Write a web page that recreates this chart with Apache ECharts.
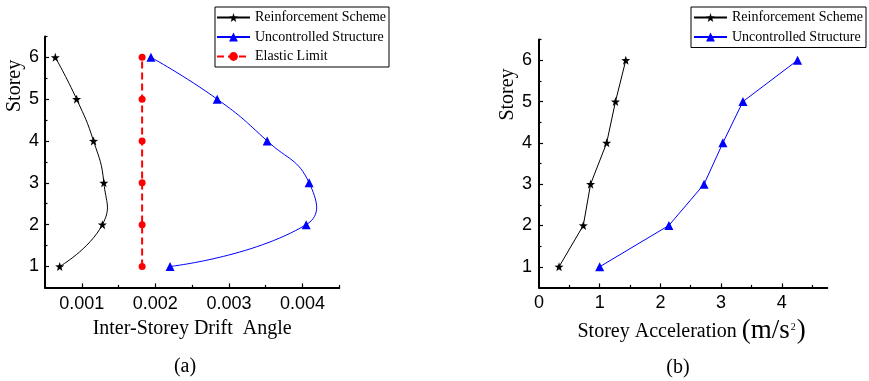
<!DOCTYPE html>
<html>
<head>
<meta charset="utf-8">
<script src="https://cdn.jsdelivr.net/npm/echarts@6/dist/echarts.min.js"></script>
<style>
  html, body { margin: 0; padding: 0; background: #fff; }
  #chart { width: 869px; height: 381px; }
</style>
</head>
<body>
<div id="chart"></div>
<script>
// Storey numbers shared by both panels
const storeys = [1, 2, 3, 4, 5, 6];

// (a) inter-storey drift angle per storey
const driftReinforced = [0.0007, 0.00128, 0.0013, 0.00116, 0.00093, 0.00064];
const driftUncontrolled = [0.0022, 0.00405, 0.00409, 0.00352, 0.00284, 0.00194];
const driftElasticLimit = [0.00182, 0.00182, 0.00182, 0.00182, 0.00182, 0.00182];

// (b) storey acceleration per storey, m/s^2
const accReinforced = [0.33, 0.73, 0.85, 1.115, 1.26, 1.43];
const accUncontrolled = [1.0, 2.14, 2.72, 3.03, 3.36, 4.26];

// Tick values
const driftTicks = [0.001, 0.002, 0.003, 0.004];
const driftMinorTicks = [0.0015, 0.0025, 0.0035, 0.0045];
const accTicks = [0, 1, 2, 3, 4];
const accMinorTicks = [0.5, 1.5, 2.5, 3.5, 4.5];
const storeyTicks = [1, 2, 3, 4, 5, 6];
const storeyMinorTicks = [1.5, 2.5, 3.5, 4.5, 5.5, 6.5];

const SERIF = '"Liberation Serif", "Times New Roman", serif';
const SANS = '"Liberation Sans", Arial, sans-serif';
const STAR = 'path://M0,-10L2.35,-3.24L9.51,-3.09L3.8,1.24L5.88,8.09L0,4L-5.88,8.09L-3.8,1.24L-9.51,-3.09L-2.35,-3.24Z';

const pairs = (xs) => xs.map((x, i) => [x, storeys[i]]);

// Main axis: line, labels and major ticks
function mainAxis(gridIndex, min, max, labels, ticks, margin, extra) {
  return Object.assign({
    type: 'value', gridIndex, min, max,
    splitLine: { show: false },
    axisLine: { show: true, lineStyle: { color: '#000', width: 2 } },
    axisTick: { show: true, inside: true, length: 4, customValues: ticks, lineStyle: { color: '#000', width: 1.2 } },
    axisLabel: { show: true, customValues: labels, margin, color: '#000', fontFamily: SANS, fontSize: 18 }
  }, extra || {});
}
// Overlay axis carrying only the short minor ticks
function minorAxis(gridIndex, min, max, ticks) {
  return {
    type: 'value', gridIndex, min, max,
    splitLine: { show: false },
    axisLine: { show: false },
    axisLabel: { show: false },
    axisTick: { show: true, inside: true, length: 2.5, customValues: ticks, lineStyle: { color: '#000', width: 1.2 } }
  };
}

// Smooth spline through the points, drawn in pixel space from the data
function curve(xs, color, axisIndex) {
  return {
    type: 'custom', xAxisIndex: axisIndex, yAxisIndex: axisIndex, silent: true, z: 2,
    data: pairs(xs),
    renderItem(params, api) {
      if (params.dataIndex !== 0) return;
      const pts = xs.map((x, i) => api.coord([x, storeys[i]]));
      return {
        type: 'polyline',
        shape: { points: pts, smooth: 0.5 },
        style: { stroke: color, lineWidth: 1, fill: 'none' }
      };
    }
  };
}

const yNameStyle = (pad) => ({ fontFamily: SERIF, fontSize: 20, color: '#000', padding: [0, 0, 0, pad] });

const option = {
  animation: false,
  backgroundColor: '#fff',
  grid: [
    { left: 45, top: 36.4, width: 294.3, height: 251 },
    { left: 539, top: 39.6, width: 288.3, height: 247.8 },
    { left: 45, top: 36.4, width: 294.3, height: 251 },
    { left: 539, top: 39.6, width: 288.3, height: 247.8 }
  ],
  xAxis: [
    mainAxis(0, 0.0005, 0.0045, driftTicks, driftTicks, 8, {
      name: 'Inter-Storey Drift  Angle', nameLocation: 'middle', nameGap: 30,
      nameTextStyle: { fontFamily: SERIF, fontSize: 20, color: '#000' }
    }),
    mainAxis(1, 0, 4.75, accTicks, [1, 2, 3, 4], 7, {
      name: '{t|Storey Acceleration }{u|(m/s}{s|2}{u|)}', nameLocation: 'middle', nameGap: 28,
      nameTextStyle: {
        fontFamily: SERIF, fontSize: 20, color: '#000', padding: [0, 0, 0, 17],
        rich: {
          t: { fontFamily: SERIF, fontSize: 20, color: '#000', verticalAlign: 'bottom', padding: [0, 0, 3, 0] },
          u: { fontFamily: SERIF, fontSize: 27, color: '#000', verticalAlign: 'bottom' },
          s: { fontFamily: SERIF, fontSize: 10, color: '#000', verticalAlign: 'top', padding: [5, 1, 0, 1] }
        }
      }
    }),
    minorAxis(2, 0.0005, 0.0045, driftMinorTicks),
    minorAxis(3, 0, 4.75, accMinorTicks)
  ],
  yAxis: [
    mainAxis(0, 0.5, 6.5, storeyTicks, storeyTicks, 6, {
      name: 'Storey', nameLocation: 'middle', nameGap: 18, nameTextStyle: yNameStyle(152)
    }),
    mainAxis(1, 0.5, 6.5, storeyTicks, storeyTicks, 7, {
      name: 'Storey', nameLocation: 'middle', nameGap: 17, nameTextStyle: yNameStyle(138)
    }),
    minorAxis(2, 0.5, 6.5, storeyMinorTicks),
    minorAxis(3, 0.5, 6.5, storeyMinorTicks)
  ],
  legend: [
    {
      orient: 'vertical', left: 215, top: 7, itemWidth: 33, itemHeight: 11, itemGap: 0.5,
      padding: [1, 3, 1, 1], borderColor: '#000', borderWidth: 1, selectedMode: false,
      textStyle: { fontFamily: SERIF, fontSize: 14, lineHeight: 19, color: '#000' },
      data: [
        { name: 'Reinforcement Scheme', lineStyle: { opacity: 1 } },
        { name: 'Uncontrolled Structure', lineStyle: { opacity: 1 } },
        { name: 'Elastic Limit' }
      ]
    },
    {
      orient: 'vertical', left: 691, top: 7, itemWidth: 33, itemHeight: 11, itemGap: 0.5,
      padding: [1, 3, 1, 2], borderColor: '#000', borderWidth: 1, selectedMode: false,
      textStyle: { fontFamily: SERIF, fontSize: 14, lineHeight: 19, color: '#000' },
      data: [
        { name: 'Reinforcement Scheme', lineStyle: { opacity: 1 } },
        { name: 'Uncontrolled Structure', lineStyle: { opacity: 1 } }
      ]
    }
  ],
  graphic: [
    { type: 'text', x: 185, y: 367, style: { text: '(a)', font: '20px ' + SERIF, fill: '#000', textAlign: 'center', textVerticalAlign: 'middle', align: 'center', verticalAlign: 'middle' } },
    { type: 'text', x: 678, y: 368, style: { text: '(b)', font: '20px ' + SERIF, fill: '#000', textAlign: 'center', textVerticalAlign: 'middle', align: 'center', verticalAlign: 'middle' } }
  ],
  series: [
    // (a) markers; the connecting curves are drawn by the custom series below
    {
      name: 'Reinforcement Scheme', type: 'line', xAxisIndex: 0, yAxisIndex: 0, z: 3,
      data: pairs(driftReinforced), symbol: STAR, symbolSize: 9,
      itemStyle: { color: '#000' }, lineStyle: { color: '#000', width: 1, opacity: 0 }
    },
    curve(driftReinforced, '#000', 0),
    {
      name: 'Uncontrolled Structure', type: 'line', xAxisIndex: 0, yAxisIndex: 0, z: 3,
      data: pairs(driftUncontrolled), symbol: 'triangle', symbolSize: 9,
      itemStyle: { color: '#0000ff' }, lineStyle: { color: '#0000ff', width: 1, opacity: 0 }
    },
    curve(driftUncontrolled, '#0000ff', 0),
    {
      name: 'Elastic Limit', type: 'line', xAxisIndex: 0, yAxisIndex: 0, z: 3,
      data: pairs(driftElasticLimit), symbol: 'circle', symbolSize: 7,
      itemStyle: { color: '#ff0000' }, lineStyle: { color: '#ff0000', width: 2, type: [7, 4] }
    },
    // (b)
    {
      name: 'Reinforcement Scheme', type: 'line', xAxisIndex: 1, yAxisIndex: 1, z: 3,
      data: pairs(accReinforced), symbol: STAR, symbolSize: 9,
      itemStyle: { color: '#000' }, lineStyle: { color: '#000', width: 1 }
    },
    {
      name: 'Uncontrolled Structure', type: 'line', xAxisIndex: 1, yAxisIndex: 1, z: 3,
      data: pairs(accUncontrolled), symbol: 'triangle', symbolSize: 9,
      itemStyle: { color: '#0000ff' }, lineStyle: { color: '#0000ff', width: 1 }
    }
  ]
};

const chart = echarts.init(document.getElementById('chart'), null, { renderer: 'canvas' });
chart.setOption(option);
</script>
</body>
</html>
